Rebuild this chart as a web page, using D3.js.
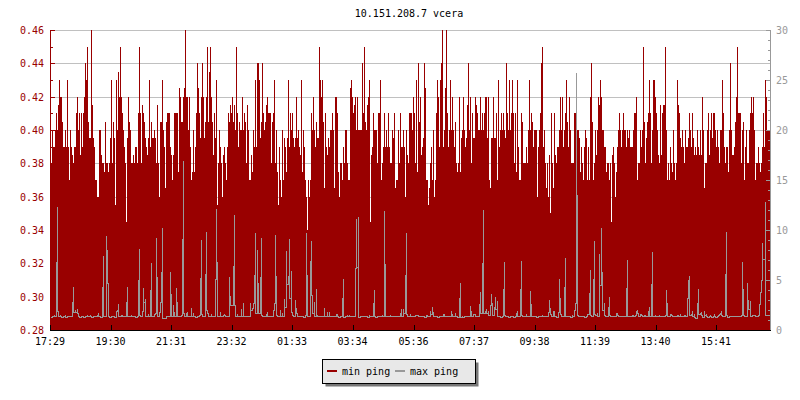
<!DOCTYPE html>
<html><head><meta charset="utf-8">
<script src="https://cdn.jsdelivr.net/npm/d3@7"></script>
<style>
body{margin:0;background:#fff}
svg{display:block}
text{font-family:"DejaVu Sans Mono",monospace;font-size:10px}
</style>
</head><body><svg id="c" width="800" height="400"></svg>
<script>
const title = "10.151.208.7 vcera";
const seriesNames = ["min ping", "max ping"];
const seriesColors = ["#990000", "#999999"];
const tickLabels = ["17:29","19:30","21:31","23:32","01:33","03:34","05:36","07:37","09:38","11:39","13:40","15:41"];
const leftTicks = [0.28,0.30,0.32,0.34,0.36,0.38,0.40,0.42,0.44,0.46];
const rightTicks = [0,5,10,15,20,25,30];
const stepMinutes = 2;

const minPing = [
0.40,0.38,0.40,0.39,0.39,0.40,0.41,0.40,0.415,0.43,
0.42,0.42,0.405,0.39,0.39,0.40,0.39,0.43,0.39,0.37,
0.40,0.39,0.385,0.38,0.39,0.39,0.41,0.42,0.40,0.41,
0.385,0.41,0.39,0.41,0.42,0.44,0.43,0.45,0.405,0.395,
0.395,0.46,0.415,0.395,0.39,0.37,0.37,0.36,0.36,0.40,
0.40,0.385,0.38,0.38,0.375,0.405,0.38,0.38,0.375,0.38,
0.395,0.43,0.38,0.405,0.395,0.355,0.43,0.40,0.435,0.42,
0.45,0.42,0.41,0.40,0.39,0.38,0.345,0.395,0.42,0.405,
0.40,0.38,0.38,0.385,0.38,0.39,0.39,0.38,0.41,0.45,
0.41,0.38,0.415,0.41,0.405,0.395,0.39,0.385,0.395,0.43,
0.39,0.405,0.395,0.395,0.40,0.395,0.38,0.415,0.38,0.36,
0.405,0.405,0.43,0.40,0.39,0.365,0.405,0.41,0.41,0.41,
0.39,0.385,0.37,0.385,0.41,0.41,0.41,0.41,0.375,0.425,
0.42,0.405,0.405,0.42,0.425,0.46,0.42,0.42,0.40,0.42,
0.39,0.37,0.375,0.40,
0.375,0.39,0.41,0.44,0.425,0.41,0.395,0.42,0.44,0.42,
0.395,0.405,0.42,0.45,0.405,0.435,0.45,0.42,0.405,0.385,
0.41,0.395,0.43,0.355,0.38,0.40,0.39,0.38,0.36,0.385,
0.39,0.38,0.37,0.39,0.41,0.405,0.415,0.41,0.42,0.405,
0.415,0.40,0.45,0.41,0.39,0.405,0.40,0.40,0.42,0.40,
0.41,0.405,0.38,0.415,0.40,0.37,0.37,0.385,0.375,0.40,
0.39,0.43,0.39,0.44,0.44,0.43,0.395,0.405,0.44,0.41,
0.40,0.405,0.415,0.42,0.41,0.41,0.41,0.38,0.405,0.41,
0.43,0.38,0.40,0.375,0.355,0.39,0.37,0.36,0.40,0.37,
0.395,0.39,0.375,0.395,0.43,0.39,0.41,0.40,0.41,0.395,
0.39,0.395,0.42,0.395,0.40,0.39,0.385,0.43,0.375,0.40,
0.39,0.37,0.36,0.34,0.37,0.36,0.37,0.41,0.40,0.42,
0.40,0.39,0.405,0.395,0.395,0.45,0.43,0.42,0.43,0.405,
0.365,0.41,0.39,0.385,0.395,0.39,0.40,0.40,0.41,0.40,
0.365,0.42,0.42,0.41,
0.375,0.36,0.38,0.38,0.37,0.39,0.38,0.40,0.40,0.38,
0.37,0.37,0.425,0.43,0.42,0.41,0.415,0.42,0.40,0.42,
0.40,0.40,0.40,0.40,0.44,0.41,0.45,0.405,0.40,0.415,
0.42,0.43,0.345,0.385,0.39,0.41,0.40,0.40,0.40,0.38,
0.41,0.41,0.43,0.37,0.38,0.39,0.41,0.39,0.40,0.39,
0.41,0.39,0.38,0.38,0.40,0.395,0.41,0.365,0.37,0.37,
0.40,0.38,0.41,0.39,0.39,0.40,0.39,0.36,0.40,0.385,
0.38,0.41,0.41,0.41,0.40,0.42,0.41,0.38,0.43,0.375,
0.44,0.405,0.42,0.385,0.39,0.395,0.44,0.425,0.37,0.37,
0.355,0.365,0.38,0.39,0.37,0.40,0.36,0.37,0.41,0.43,
0.42,0.39,0.43,0.44,0.46,0.39,0.40,0.425,0.46,0.41,
0.39,0.40,0.43,0.40,0.42,0.40,0.39,0.405,0.38,0.375,
0.38,0.42,0.375,0.395,0.40,0.42,0.40,0.39,0.395,0.415,
0.44,0.40,0.42,0.38,0.41,0.395,0.395,0.42,0.415,0.41,
0.40,0.40,0.42,0.40,
0.41,0.40,0.41,0.42,0.42,0.395,0.42,0.37,0.365,0.395,
0.395,0.42,0.395,0.395,0.41,0.37,0.43,0.39,0.40,0.41,
0.40,0.41,0.40,0.395,0.44,0.41,0.40,0.43,0.40,0.41,
0.43,0.41,0.38,0.41,0.375,0.43,0.39,0.37,0.37,0.41,
0.405,0.38,0.38,0.38,0.39,0.38,0.40,0.43,0.40,0.41,
0.405,0.39,0.40,0.40,0.40,0.36,0.39,0.40,0.41,0.44,
0.45,0.39,0.40,0.38,0.365,0.38,0.36,0.385,0.35,0.41,
0.38,0.365,0.41,0.385,0.38,0.39,0.39,0.40,0.42,0.40,
0.42,0.39,0.40,0.41,0.43,0.405,0.39,0.42,0.40,0.38,
0.38,0.38,0.41,0.41,0.41,0.40,0.40,0.395,0.375,0.39,
0.38,0.37,0.39,0.40,0.395,0.37,0.39,0.37,0.42,0.44,
0.405,0.37,0.38,0.40,0.385,0.40,0.42,0.415,0.43,0.42,
0.40,0.40,0.39,0.39,0.375,0.38,0.38,0.37,0.38,0.345,
0.385,0.39,0.38,0.36,0.375,0.39,0.40,0.41,0.40,0.39,
0.40,0.41,0.40,0.40,
0.39,0.40,0.395,0.40,0.39,0.39,0.39,0.40,0.41,0.41,
0.42,0.37,0.38,0.38,0.40,0.39,0.40,0.45,0.405,0.38,
0.395,0.405,0.41,0.43,0.41,0.38,0.40,0.43,0.43,0.42,
0.41,0.40,0.385,0.38,0.415,0.385,0.41,0.415,0.415,0.45,
0.40,0.37,0.38,0.37,0.39,0.38,0.375,0.40,0.38,0.37,
0.38,0.43,0.415,0.41,0.395,0.39,0.40,0.39,0.38,0.40,
0.39,0.39,0.395,0.41,0.40,0.39,0.41,0.395,0.385,0.39,
0.385,0.40,0.39,0.385,0.40,0.385,0.42,0.40,0.365,0.38,
0.38,0.40,0.41,0.385,0.40,0.41,0.395,0.41,0.41,0.40,
0.39,0.40,0.39,0.38,0.40,0.40,0.43,0.41,0.39,0.38,
0.39,0.39,0.375,0.40,0.44,0.40,0.385,0.385,0.39,0.405,
0.42,0.45,0.41,0.41,0.41,0.38,0.40,0.405,0.37,0.39,
0.40,0.38,0.38,0.40,0.41,0.42,0.41,0.42,0.40,0.37,
0.38,0.38,0.39,0.38,0.375,0.38,0.39,0.41,0.39,0.43,
0.42,0.40,0.40,0.40
];

const maxPing = [
1.4,1.3,1.4,1.4,1.5,1.4,6.8,12.3,1.9,1.4,
1.5,1.4,1.3,1.4,1.4,1.5,1.3,1.4,1.4,1.4,
1.4,1.4,2.8,4.3,1.8,2.0,1.8,2.1,1.7,1.4,
1.3,1.4,1.4,1.4,1.3,1.4,1.4,1.5,1.4,1.4,
1.5,1.4,1.3,1.4,1.4,1.4,1.4,1.5,1.7,1.4,
1.4,1.3,4.3,7.4,1.4,1.4,9.4,8.0,4.7,1.4,
1.3,1.4,1.4,1.4,1.4,1.3,1.9,2.0,2.6,1.4,
1.4,1.5,1.5,1.4,1.4,1.4,2.8,4.3,1.4,1.4,
1.4,1.5,1.4,1.4,1.4,1.4,1.3,1.4,5.0,8.1,
1.5,1.4,1.9,4.2,2.8,3.1,1.4,1.4,1.6,1.4,
4.0,6.7,1.4,1.4,1.6,1.7,9.2,5.3,1.4,1.8,
2.8,5.8,10.2,1.2,1.2,1.2,1.4,1.4,1.4,1.4,
5.8,3.6,1.4,2.5,1.8,1.4,4.2,2.8,1.4,1.4,
1.4,1.5,9.1,16.9,1.7,1.4,1.7,1.8,1.4,1.4,
1.4,2.2,1.4,1.7,
1.4,1.4,1.3,1.4,1.4,1.5,5.2,9.0,1.6,1.4,
1.4,5.6,9.8,2.0,1.7,1.4,1.4,1.6,1.4,1.4,
1.4,5.1,12.1,6.8,1.4,1.4,1.8,1.4,1.4,1.5,
1.6,1.5,1.4,1.4,1.4,5.3,3.4,2.5,2.5,6.4,
11.5,2.5,1.4,1.6,1.4,1.4,1.4,2.1,1.4,2.7,
1.4,1.4,1.4,1.4,1.4,1.4,2.7,2.0,2.2,2.7,
5.5,9.7,1.7,8.0,4.7,1.7,5.3,9.2,1.5,1.4,
1.4,1.4,1.6,1.8,1.4,1.4,1.4,1.4,1.4,2.0,
2.7,9.5,5.4,1.5,1.4,1.4,2.0,1.4,1.7,1.4,
3.1,2.3,7.9,4.6,5.4,9.1,3.2,5.9,1.8,1.5,
1.4,3.0,2.2,1.7,1.4,1.4,1.4,1.4,1.4,1.4,
1.3,1.5,9.7,5.5,1.4,1.4,6.9,8.9,3.5,1.7,
2.8,1.4,4.1,1.5,1.4,1.4,1.4,1.4,1.4,1.4,
2.2,1.4,1.4,1.8,1.4,1.8,1.4,1.4,1.4,1.4,
1.4,1.4,1.6,1.6,
1.4,1.3,1.4,1.4,3.2,5.1,1.3,1.4,1.4,1.5,
1.4,1.5,1.4,1.4,1.4,1.4,1.4,6.2,11.1,6.3,
11.3,1.3,1.4,1.4,1.4,1.4,1.4,1.4,1.4,1.4,
1.3,1.5,1.4,1.4,1.4,2.7,4.0,1.4,1.3,1.4,
1.4,1.4,1.4,1.4,1.5,1.4,11.9,6.6,1.4,1.4,
1.4,1.4,1.5,1.4,1.4,1.4,1.4,1.4,1.4,1.4,
1.4,1.4,1.7,2.1,1.4,2.1,1.7,5.5,9.7,1.6,
1.4,1.4,1.6,1.4,1.4,1.4,1.4,1.5,1.5,1.5,
1.5,1.4,1.4,1.4,1.4,1.4,1.4,1.3,1.5,1.5,
1.4,1.4,1.9,1.6,2.3,1.8,1.4,1.4,1.4,1.4,
1.3,1.4,1.4,1.4,1.4,1.6,1.6,1.4,1.4,1.4,
1.4,1.4,1.4,1.9,1.6,1.4,1.4,1.7,1.4,1.4,
1.3,3.2,4.7,1.3,1.4,1.3,1.4,1.4,1.4,1.4,
1.4,1.4,2.4,1.9,1.4,1.6,1.6,1.6,1.4,1.4,
1.4,2.6,3.8,1.7,
6.7,12.0,1.7,1.9,2.1,1.7,1.9,1.5,2.5,3.6,
2.7,1.5,2.3,3.3,2.1,2.9,1.4,1.4,1.4,1.3,
1.4,4.1,6.8,1.5,1.4,1.4,1.4,1.3,1.4,1.4,
1.4,1.4,1.3,1.4,1.7,1.9,1.4,1.4,4.1,6.9,
1.5,1.4,1.4,1.4,1.6,1.4,1.4,1.4,3.9,2.6,
1.4,1.4,1.4,1.4,1.4,1.3,1.4,1.4,1.4,1.4,
1.5,1.4,1.4,1.4,1.4,1.4,1.8,3.0,2.2,1.6,
1.4,1.9,1.9,1.4,1.4,1.3,1.8,5.1,3.2,1.6,
1.4,1.4,4.3,7.2,1.4,1.4,1.4,1.4,1.4,1.3,
1.5,1.4,2.0,2.7,25.7,13.5,1.5,1.4,1.4,1.4,
1.4,1.4,1.4,1.3,1.4,1.6,1.6,3.7,6.0,1.5,
1.4,5.1,8.9,1.6,1.5,1.7,1.4,7.6,4.5,10.2,
5.8,2.0,2.7,1.5,1.4,1.4,2.3,3.3,1.5,1.4,
1.4,1.4,1.4,1.4,1.7,1.7,1.5,1.4,1.4,1.4,
1.4,1.4,1.4,1.4,
4.2,7.0,1.4,1.4,1.4,1.4,1.5,1.5,1.4,1.5,
1.9,2.0,1.7,1.4,1.6,1.6,1.5,1.4,1.5,1.5,
1.4,1.4,1.9,2.3,1.4,4.6,7.8,1.4,1.4,1.5,
1.4,1.4,1.4,1.5,1.4,1.4,1.4,1.4,1.4,1.5,
4.0,2.7,1.4,1.4,1.6,1.6,1.5,1.4,1.4,1.4,
1.4,1.5,1.5,1.4,1.6,1.4,1.4,1.4,1.5,1.5,
1.4,3.2,5.0,5.4,1.5,1.6,1.9,1.4,1.6,1.3,
1.2,2.7,4.1,1.6,1.7,1.8,1.5,1.3,1.9,1.5,
1.6,1.4,1.3,1.4,1.5,1.4,1.3,1.4,1.6,1.4,
1.3,1.4,1.5,1.6,1.7,1.9,1.5,1.4,1.4,5.6,
9.8,1.5,1.3,1.4,1.4,1.4,1.4,1.4,1.4,1.4,
1.4,1.4,1.4,1.4,1.4,1.5,6.8,4.1,1.5,1.4,
1.4,4.7,3.0,2.1,2.9,1.4,1.5,1.5,1.5,1.5,
1.4,1.4,1.5,2.6,3.8,5.0,8.7,7.1,7.1,12.8,
1.5,1.5,1.5,1.5
];

const svg = d3.select("#c");
const W = 800, H = 400;
const L = 50, R = 770, T = 30, B = 330;

const start = new Date(2000, 0, 1, 17, 29, 0);
const end = d3.timeMinute.offset(start, minPing.length * stepMinutes);
const x = d3.scaleTime().domain([start, end]).range([L, R]);
const yL = d3.scaleLinear().domain([0.28, 0.46]).range([B, T]);
const yR = d3.scaleLinear().domain([0, 30]).range([B, T]);

const tAt = i => d3.timeMinute.offset(start, i * stepMinutes);
const minData = minPing.map((v, i) => ({t: tAt(i), v}));
minData.push({t: end, v: minPing[minPing.length - 1]});

// each max-ping sample drawn as a 1px column joining it to its neighbours (line raster look)
const maxCols = maxPing.map((v, i) => {
  const a = i > 0 ? maxPing[i - 1] : v;
  const b = i < maxPing.length - 1 ? maxPing[i + 1] : v;
  const lo = Math.min(a, v, b);
  const top = Math.round(yR(v));
  const bot = Math.round(yR(lo));
  return {t: tAt(i), top, h: Math.max(1, bot - top + 1)};
});

const tickTimes = tickLabels.map(s => {
  const [h, m] = s.split(":").map(Number);
  let d = new Date(2000, 0, 1, h, m, 0);
  if (d < start) d = d3.timeDay.offset(d, 1);
  return d;
});

svg.append("rect").attr("width", W).attr("height", H).attr("fill", "#fff");

// grid
svg.append("g").selectAll("line").data(leftTicks.filter(v => v > 0.28)).join("line")
  .attr("x1", L).attr("x2", R)
  .attr("y1", d => Math.round(yL(d)) + 0.5).attr("y2", d => Math.round(yL(d)) + 0.5)
  .attr("stroke", "#c0c0c0").attr("stroke-width", 1);

// min ping area
svg.append("path").datum(minData)
  .attr("d", d3.area().x(d => x(d.t)).y0(yL(0.28)).y1(d => yL(d.v)).curve(d3.curveStepAfter))
  .attr("fill", seriesColors[0]).attr("shape-rendering", "crispEdges");

// max ping line
svg.append("g").attr("shape-rendering", "crispEdges")
  .selectAll("rect").data(maxCols).join("rect")
  .attr("x", d => Math.round(x(d.t))).attr("width", 1)
  .attr("y", d => d.top).attr("height", d => d.h)
  .attr("fill", seriesColors[1]);

// left axis
const gl = svg.append("g");
gl.append("line").attr("x1", L + 0.5).attr("x2", L + 0.5).attr("y1", T).attr("y2", B)
  .attr("stroke", "#990000");
const leftMinor = d3.range(0.28, 0.4651, 0.01);
gl.selectAll("line.mn").data(leftMinor).join("line").attr("class", "mn")
  .attr("x1", L).attr("x2", (d, i) => L + (i % 2 === 0 ? 5 : 3))
  .attr("y1", d => Math.round(yL(d)) + 0.5).attr("y2", d => Math.round(yL(d)) + 0.5)
  .attr("stroke", "#990000");
gl.selectAll("text").data(leftTicks).join("text")
  .attr("x", 44).attr("y", d => yL(d) + 4).attr("text-anchor", "end")
  .attr("fill", "#990000").text(d => d.toFixed(2));

// right axis
const gr = svg.append("g");
gr.append("line").attr("x1", R + 0.5).attr("x2", R + 0.5).attr("y1", T).attr("y2", B)
  .attr("stroke", "#999999");
gr.selectAll("line.mn").data(d3.range(0, 31, 1)).join("line").attr("class", "mn")
  .attr("x1", d => R + 1 - (d % 5 === 0 ? 5 : 3)).attr("x2", R + 1)
  .attr("y1", d => Math.round(yR(d)) + 0.5).attr("y2", d => Math.round(yR(d)) + 0.5)
  .attr("stroke", "#999999");
gr.selectAll("text").data(rightTicks).join("text")
  .attr("x", 776).attr("y", d => yR(d) + 4).attr("text-anchor", "start")
  .attr("fill", "#999999").text(d => d);

// bottom axis
const gb = svg.append("g");
gb.append("line").attr("x1", L).attr("x2", R + 1).attr("y1", B + 0.5).attr("y2", B + 0.5)
  .attr("stroke", "#000");
gb.selectAll("line.tk").data(tickTimes).join("line").attr("class", "tk")
  .attr("x1", d => Math.round(x(d)) + 0.5).attr("x2", d => Math.round(x(d)) + 0.5)
  .attr("y1", B - 5).attr("y2", B)
  .attr("stroke", "#000");
gb.selectAll("text").data(tickTimes).join("text")
  .attr("x", d => x(d)).attr("y", 345).attr("text-anchor", "middle")
  .attr("fill", "#000").text((d, i) => tickLabels[i]);

// title
svg.append("text").attr("x", 409).attr("y", 17).attr("text-anchor", "middle")
  .attr("fill", "#000").text(title);

// legend
const lg = svg.append("g");
lg.append("rect").attr("x", 325.5).attr("y", 362.5).attr("width", 153).attr("height", 24)
  .attr("fill", "#777");
lg.append("rect").attr("x", 322.5).attr("y", 359.5).attr("width", 153).attr("height", 24)
  .attr("fill", "#e8e8e8").attr("stroke", "#000");
const legX = [327, 395];
seriesNames.forEach((n, i) => {
  lg.append("rect").attr("x", legX[i]).attr("y", 370).attr("width", 10).attr("height", 2)
    .attr("fill", seriesColors[i]);
  lg.append("text").attr("x", legX[i] + 15).attr("y", 375).attr("fill", "#000").text(n);
});
</script>
</body></html>
